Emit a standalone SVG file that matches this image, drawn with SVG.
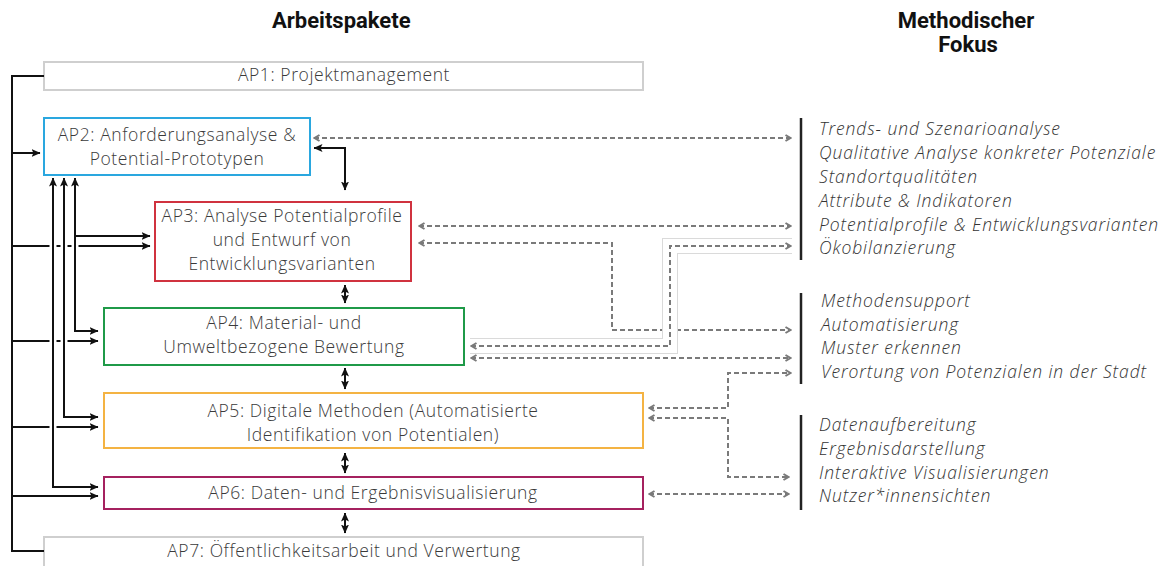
<svg xmlns="http://www.w3.org/2000/svg" width="1167" height="566" viewBox="0 0 1167 566">
  <style>
    .title { font-family: Roboto, "Liberation Sans", sans-serif; font-weight: 700; font-size: 22px; fill: #111; }
    .box { fill: #fff; stroke-width: 2; }
    .lbl { font-family: "Open Sans", "Liberation Sans", sans-serif; font-weight: 300; font-size: 17.5px; letter-spacing: 0.6px; fill: #3a3a3a; text-anchor: middle; }
    .fok { font-family: "Open Sans", "Liberation Sans", sans-serif; font-weight: 300; font-style: italic; font-size: 17.5px; letter-spacing: 0.9px; fill: #333; }
    .solid { fill: none; stroke: #111; stroke-width: 2; }
    .halo { fill: none; stroke: #fff; stroke-width: 7; }
    .dash { fill: none; stroke: #7a7a7a; stroke-width: 2; stroke-dasharray: 5 3; }
    .dhalo-o { fill: none; stroke: #dadada; stroke-width: 16; }
    .dhalo-i { fill: none; stroke: #fff; stroke-width: 14; }
    .bar { fill: none; stroke: #222; stroke-width: 2.5; }
  </style>
  <defs>
    <marker id="ah" viewBox="0 0 9 8" refX="8.5" refY="4" markerWidth="9" markerHeight="8" markerUnits="userSpaceOnUse" orient="auto-start-reverse">
      <path d="M0,0 L9,4 L0,8 L2,4 z" fill="#111"/>
    </marker>
    <marker id="dh" viewBox="0 0 8 8" refX="7" refY="4" markerWidth="8" markerHeight="8" markerUnits="userSpaceOnUse" orient="auto-start-reverse">
      <path d="M1.5,1 L6.5,4 L1.5,7" fill="none" stroke="#7a7a7a" stroke-width="2"/>
    </marker>
  </defs>

  <rect width="1167" height="566" fill="#fff"/>

  <!-- column headings -->
  <text class="title" x="272" y="28">Arbeitspakete</text>
  <text class="title" x="966" y="28" text-anchor="middle">Methodischer</text>
  <text class="title" x="968" y="52" text-anchor="middle">Fokus</text>

  <!-- work packages -->
  <g id="ap1">
    <rect class="box" x="44" y="62" width="599" height="28" stroke="#cfcfcf"/>
    <text class="lbl" x="344" y="81">AP1: Projektmanagement</text>
  </g>
  <g id="ap2">
    <rect class="box" x="44" y="118" width="266" height="57" stroke="#2aa7df"/>
    <text class="lbl" x="177" y="141">AP2: Anforderungsanalyse &amp;</text>
    <text class="lbl" x="177" y="165">Potential-Prototypen</text>
  </g>
  <g id="ap3">
    <rect class="box" x="155" y="202" width="256" height="79" stroke="#d0323f"/>
    <text class="lbl" x="282" y="222">AP3: Analyse Potentialprofile</text>
    <text class="lbl" x="282" y="246">und Entwurf von</text>
    <text class="lbl" x="282" y="270">Entwicklungsvarianten</text>
  </g>
  <g id="ap4">
    <rect class="box" x="104" y="308" width="360" height="57" stroke="#1f9a48"/>
    <text class="lbl" x="284" y="329">AP4: Material- und</text>
    <text class="lbl" x="284" y="353">Umweltbezogene Bewertung</text>
  </g>
  <g id="ap5">
    <rect class="box" x="104" y="393" width="539" height="55" stroke="#f4b343"/>
    <text class="lbl" x="373" y="417">AP5: Digitale Methoden (Automatisierte</text>
    <text class="lbl" x="373" y="441">Identifikation von Potentialen)</text>
  </g>
  <g id="ap6">
    <rect class="box" x="104" y="477" width="539" height="32" stroke="#a5215f"/>
    <text class="lbl" x="373" y="499">AP6: Daten- und Ergebnisvisualisierung</text>
  </g>
  <g id="ap7">
    <rect class="box" x="44" y="537" width="599" height="40" stroke="#cfcfcf"/>
    <text class="lbl" x="344" y="557">AP7: Öffentlichkeitsarbeit und Verwertung</text>
  </g>

  <!-- methodological focus groups -->
  <g id="fokus1">
    <path class="bar" d="M801,118 V260"/>
    <text class="fok" x="819" y="135">Trends- und Szenarioanalyse</text>
    <text class="fok" x="819" y="159">Qualitative Analyse konkreter Potenziale</text>
    <text class="fok" x="819" y="183">Standortqualitäten</text>
    <text class="fok" x="819" y="207">Attribute &amp; Indikatoren</text>
    <text class="fok" x="819" y="231">Potentialprofile &amp; Entwicklungsvarianten</text>
    <text class="fok" x="819" y="254">Ökobilanzierung</text>
  </g>
  <g id="fokus2">
    <path class="bar" d="M801,293 V384"/>
    <text class="fok" x="821" y="307">Methodensupport</text>
    <text class="fok" x="821" y="331">Automatisierung</text>
    <text class="fok" x="821" y="354">Muster erkennen</text>
    <text class="fok" x="821" y="378">Verortung von Potenzialen in der Stadt</text>
  </g>
  <g id="fokus3">
    <path class="bar" d="M801,415 V510"/>
    <text class="fok" x="819" y="431">Datenaufbereitung</text>
    <text class="fok" x="819" y="455">Ergebnisdarstellung</text>
    <text class="fok" x="819" y="479">Interaktive Visualisierungen</text>
    <text class="fok" x="819" y="502">Nutzer*innensichten</text>
  </g>

  <!-- connectors -->
  <g id="connectors">
    <!-- project management bus -->
    <path class="solid" d="M44,76 H12 V551 H44"/>
    <path class="solid" d="M12,153 H40" marker-end="url(#ah)"/>
    <path class="solid" d="M12,246 H150" marker-end="url(#ah)"/>
    <path class="solid" d="M12,341 H98" marker-end="url(#ah)"/>
    <path class="solid" d="M12,427 H98" marker-end="url(#ah)"/>
    <path class="solid" d="M12,496 H98" marker-end="url(#ah)"/>

    <!-- feedback lines into AP2 (crossings leave a gap) -->
    <path class="halo" d="M75,186 V331"/>
    <path class="halo" d="M64,186 V417"/>
    <path class="halo" d="M53,186 V487"/>
    <path class="solid" d="M75,178 V331 H98" marker-start="url(#ah)" marker-end="url(#ah)"/>
    <path class="solid" d="M75,236 H150" marker-end="url(#ah)"/>
    <path class="solid" d="M64,178 V417 H98" marker-start="url(#ah)" marker-end="url(#ah)"/>
    <path class="solid" d="M53,178 V487 H98" marker-start="url(#ah)" marker-end="url(#ah)"/>

    <!-- sequence between packages -->
    <path class="solid" d="M314,148 H345 V190" marker-start="url(#ah)" marker-end="url(#ah)"/>
    <path class="solid" d="M345,285 V303" marker-start="url(#ah)" marker-end="url(#ah)"/>
    <path class="solid" d="M345,368 V389" marker-start="url(#ah)" marker-end="url(#ah)"/>
    <path class="solid" d="M345,453 V473" marker-start="url(#ah)" marker-end="url(#ah)"/>
    <path class="solid" d="M345,513 V533" marker-start="url(#ah)" marker-end="url(#ah)"/>

    <!-- links to methodological focus -->
    <path class="dash" d="M314,138 H791" marker-start="url(#dh)" marker-end="url(#dh)"/>
    <path class="dash" d="M419,226 H791" marker-start="url(#dh)" marker-end="url(#dh)"/>
    <path class="dash" d="M419,243 H612 V330 H791" marker-start="url(#dh)" marker-end="url(#dh)"/>
    <path class="dhalo-o" d="M470,346 H670 V246 H792"/>
    <path class="dhalo-i" d="M470,346 H670 V246 H792"/>
    <path class="dash" d="M471,346 H670 V246 H791" marker-start="url(#dh)" marker-end="url(#dh)"/>
    <path class="dash" d="M471,358 H791" marker-start="url(#dh)" marker-end="url(#dh)"/>
    <path class="dash" d="M649,408 H728 V373 H791" marker-start="url(#dh)" marker-end="url(#dh)"/>
    <path class="dash" d="M649,418 H728 V477 H789" marker-start="url(#dh)" marker-end="url(#dh)"/>
    <path class="dash" d="M649,494 H789" marker-start="url(#dh)" marker-end="url(#dh)"/>
  </g>
</svg>
